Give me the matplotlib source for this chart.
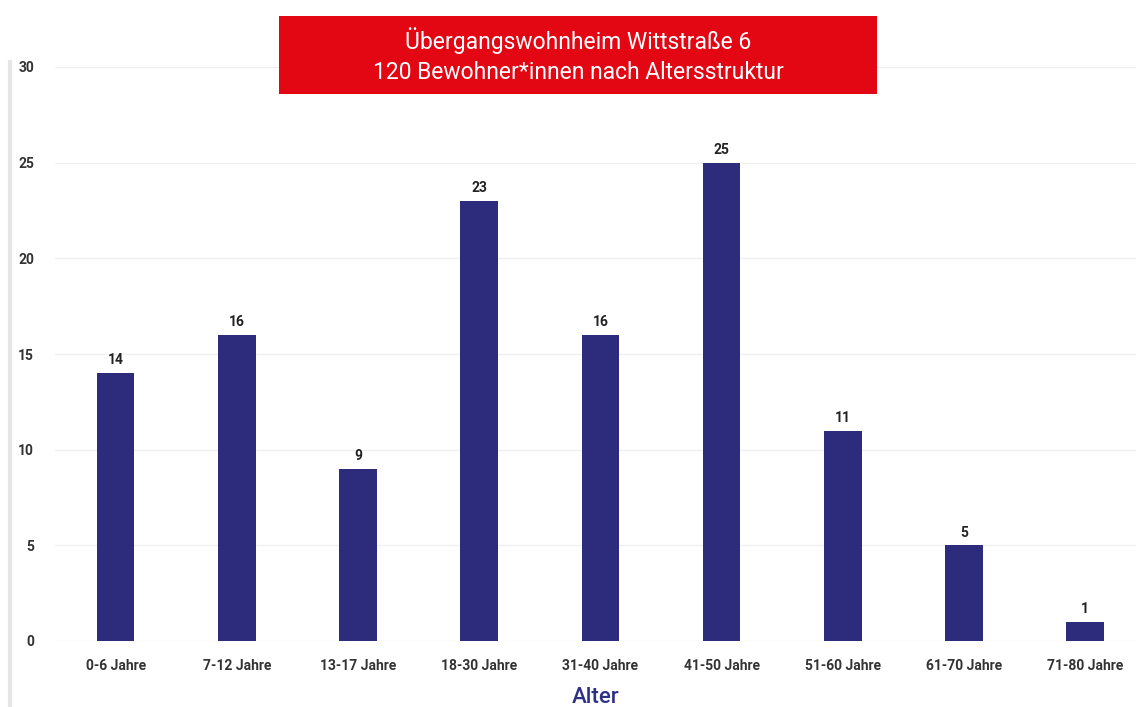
import matplotlib
matplotlib.use("Agg")
import matplotlib.pyplot as plt
from matplotlib.patches import Rectangle
from matplotlib.lines import Line2D

age_groups = ["0-6 Jahre", "7-12 Jahre", "13-17 Jahre", "18-30 Jahre", "31-40 Jahre",
              "41-50 Jahre", "51-60 Jahre", "61-70 Jahre", "71-80 Jahre"]
residents = [14, 16, 9, 23, 16, 25, 11, 5, 1]
y_ticks = [0, 5, 10, 15, 20, 25, 30]
title_lines = ["Übergangswohnheim Wittstraße 6", "120 Bewohner*innen nach Altersstruktur"]

plt.rcParams["font.family"] = ["Roboto", "DejaVu Sans"]

fig = plt.figure(figsize=(11.36, 7.07), dpi=100)
ax = fig.add_axes([55 / 1136, 1 - 641 / 707, 1 - 55 / 1136, (641 - 67) / 707])

x = range(len(age_groups))
bars = ax.bar(x, residents, width=0.31, color="#2C2B7C", zorder=3)
for b, v in zip(bars, residents):
    ax.text(b.get_x() + b.get_width() / 2, v + 0.3, str(v), ha="center", va="bottom",
            fontsize=10, fontweight="bold", color="#222222")

ax.set_xlim(-0.5, 8.42)
ax.set_ylim(0, 30)
ax.set_yticks(y_ticks)
ax.set_xticks(list(x))
ax.set_xticklabels(age_groups)
ax.tick_params(axis="both", length=0, labelsize=10, colors="#333333")
ax.tick_params(axis="x", pad=13)
ax.tick_params(axis="y", pad=15)
for lbl in ax.get_xticklabels() + ax.get_yticklabels():
    lbl.set_fontweight("bold")
ax.grid(axis="y", color="#f0f0f0", linewidth=1, zorder=0)
for s in ax.spines.values():
    s.set_visible(False)

ax.set_xlabel("Alter", fontsize=16, fontweight="medium", color="#2E2F86", labelpad=10)

# page shadow at the left edge
fig.add_artist(Line2D([10 / 1136, 10 / 1136], [0, 1 - 62 / 707], transform=fig.transFigure,
                      color="#cccccc", linewidth=3, alpha=0.5))

# red title box
fig.add_artist(Rectangle((279 / 1136, 1 - 94 / 707), (877 - 279) / 1136, 78 / 707,
                         transform=fig.transFigure, facecolor="#E30613", edgecolor="none"))
fig.text(578 / 1136, 1 - 55.5 / 707, "\n".join(title_lines), ha="center", va="center",
         color="white", fontsize=16.5, fontweight="normal", linespacing=1.35)

fig.savefig("out.png", dpi=100)
